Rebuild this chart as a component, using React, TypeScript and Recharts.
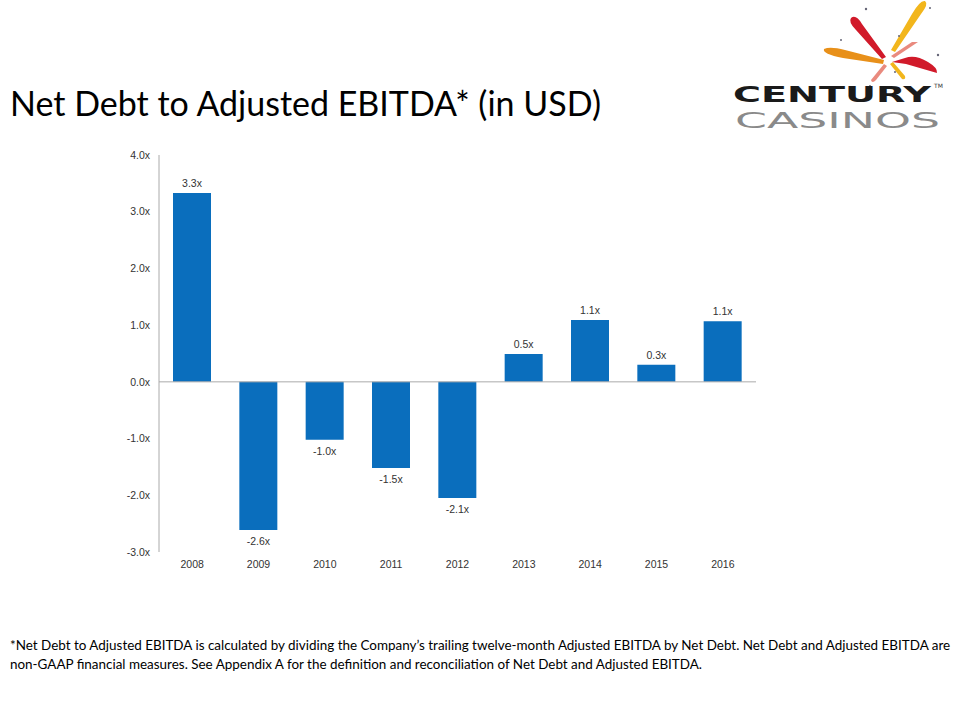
import React from 'react';
import { BarChart, Bar, XAxis, YAxis, ReferenceLine, LabelList } from 'recharts';

const years = ['2008', '2009', '2010', '2011', '2012', '2013', '2014', '2015', '2016'];
const ratios = [3.33, -2.61, -1.02, -1.52, -2.05, 0.49, 1.09, 0.3, 1.07];
const ratioLabels = ['3.3x', '-2.6x', '-1.0x', '-1.5x', '-2.1x', '0.5x', '1.1x', '0.3x', '1.1x'];
const yTicks = [-3, -2, -1, 0, 1, 2, 3, 4];

const data = years.map((year, i) => ({ year, ratio: ratios[i], label: ratioLabels[i] }));

const axisFont = { fontFamily: 'Liberation Sans, Arial, sans-serif', fontSize: 10.5, fill: '#333' };

const BarValueLabel = (props: any) => {
  const { x, y, width, height, index } = props;
  const top = Math.min(y, y + height);
  const bottom = Math.max(y, y + height);
  const v = ratios[index];
  const ty = v >= 0 ? top - 6 : bottom + 15;
  return (
    <text x={x + width / 2} y={ty} textAnchor="middle" {...axisFont}>
      {ratioLabels[index]}
    </text>
  );
};

const Logo = () => (
  <svg width={240} height={135} style={{ position: 'absolute', left: 720, top: 0 }}>
    <g transform="translate(-720,0)">
      <path d="M851 18 Q856 14 862 24 L886 57 L882 59 L856 30 Q848 22 851 18 Z" fill="#d11a2a" />
      <path d="M925 1 Q929 4 921 14 L895 52 L891 50 L912 14 Q920 0 925 1 Z" fill="#f2b61c" />
      <path d="M824 49 Q830 46 845 50 L884 60 L883 64 L843 58 Q822 54 824 49 Z" fill="#e8901a" />
      <path d="M905 58 Q915 54 928 62 Q938 68 937 73 L906 64 L892 62 Z" fill="#d11a2a" />
      <path d="M918 42 L894 58 L891 56 L912 42 Z" fill="#e98a7e" />
      <path d="M887 66 L876 80 Q872 84 871 80 L884 64 Z" fill="#e98a7e" />
      <path d="M893 62 L905 76 Q906 80 902 79 L890 64 Z" fill="#f2b61c" />
      <circle cx={866} cy={9} r={1.2} fill="#667" />
      <circle cx={899} cy={36} r={1} fill="#667" />
      <circle cx={938} cy={55} r={1.2} fill="#667" />
      <circle cx={841} cy={40} r={1} fill="#667" />
      <circle cx={895} cy={72} r={1} fill="#667" />
      <circle cx={870} cy={86} r={1} fill="#667" />
      <circle cx={930} cy={8} r={1} fill="#667" />
      <text x={733} y={102} textLength={198} lengthAdjust="spacingAndGlyphs"
        fontFamily="DejaVu Sans, sans-serif" fontWeight="bold" fontSize={22} fill="#1a1a1a">CENTURY</text>
      <text x={934} y={88} fontFamily="DejaVu Sans, sans-serif" fontSize={6} fill="#333">TM</text>
      <text x={735} y={128} textLength={205} lengthAdjust="spacingAndGlyphs"
        fontFamily="DejaVu Sans, sans-serif" fontSize={22} fill="#8a8a8a">CASINOS</text>
    </g>
  </svg>
);

const App = () => (
  <div style={{ position: 'absolute', left: 0, top: 0, width: 960, height: 720, background: '#fff', overflow: 'hidden' }}>
    <div style={{ position: 'absolute', left: 10, top: 82, fontFamily: 'Lato, sans-serif', fontSize: 34, lineHeight: '41px', color: '#000', whiteSpace: 'nowrap' }}>
      Net Debt to Adjusted EBITDA* (in USD)
    </div>
    <Logo />
    <div style={{ position: 'absolute', left: 0, top: 0 }}>
      <BarChart width={960} height={600} data={data} margin={{ top: 155, right: 204, left: 99, bottom: 18 }} barSize={38}>
        <XAxis dataKey="year" axisLine={false} tickLine={false} tickSize={0} tickMargin={9} tick={axisFont} height={30} interval={0} />
        <YAxis type="number" domain={[-3, 4]} ticks={yTicks} width={60} tickLine={false} tickSize={0} tickMargin={9}
          axisLine={{ stroke: '#aaa' }} tick={axisFont} tickFormatter={(v: number) => `${v.toFixed(1)}x`} />
        <ReferenceLine y={0} stroke="#aaa" />
        <Bar dataKey="ratio" fill="#0a6ebd" isAnimationActive={false}>
          <LabelList dataKey="label" content={BarValueLabel} />
        </Bar>
      </BarChart>
    </div>
    <div style={{ position: 'absolute', left: 10, top: 636, fontFamily: 'Lato, sans-serif', fontSize: 13.45, lineHeight: '19px', color: '#000', whiteSpace: 'nowrap' }}>
      *Net Debt to Adjusted EBITDA is calculated by dividing the Company’s trailing twelve-month Adjusted EBITDA by Net Debt. Net Debt and Adjusted EBITDA are
      <br />
      non-GAAP financial measures. See Appendix A for the definition and reconciliation of Net Debt and Adjusted EBITDA.
    </div>
  </div>
);

export default App;
